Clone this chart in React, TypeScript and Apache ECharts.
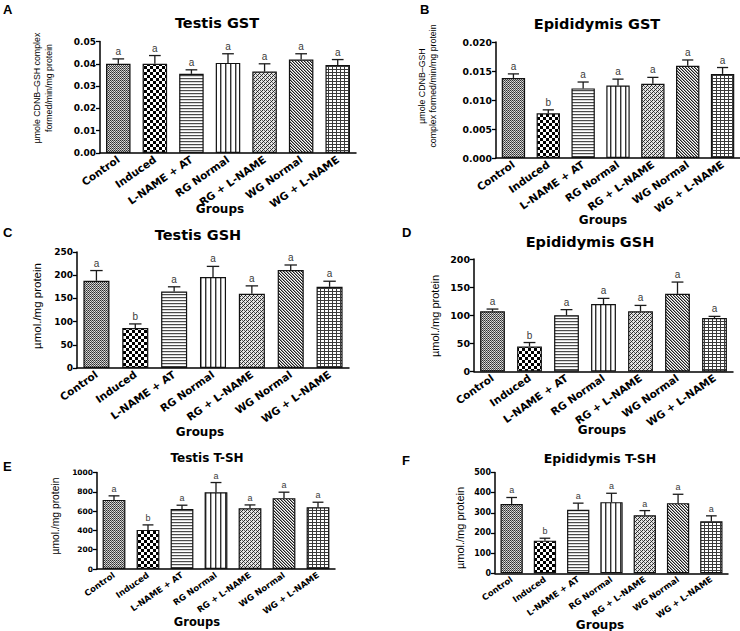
import React, { useEffect, useRef } from 'react';
import * as echarts from 'echarts';

// ---------------- DATA ----------------
const categories = ['Control', 'Induced', 'L-NAME + AT', 'RG Normal', 'RG + L-NAME', 'WG Normal', 'WG + L-NAME'];

const testisGstMean = [0.0400, 0.0400, 0.0355, 0.0404, 0.0365, 0.0419, 0.0395];
const testisGstSem = [0.0022, 0.0037, 0.0018, 0.0041, 0.0035, 0.0026, 0.0024];
const testisGstLetters = ['a', 'a', 'a', 'a', 'a', 'a', 'a'];

const epiGstMean = [0.0138, 0.0077, 0.0120, 0.0125, 0.0128, 0.0159, 0.0145];
const epiGstSem = [0.0007, 0.0006, 0.0011, 0.0011, 0.0011, 0.0010, 0.0011];
const epiGstLetters = ['a', 'b', 'a', 'a', 'a', 'a', 'a'];

const testisGshMean = [188, 86, 165, 196, 160, 211, 175];
const testisGshSem = [22, 9, 10, 23, 17, 11, 12];
const testisGshLetters = ['a', 'b', 'a', 'a', 'a', 'a', 'a'];

const epiGshMean = [107, 44.5, 100, 120, 107, 138, 95];
const epiGshSem = [4, 7, 10, 10, 10.5, 21, 3];
const epiGshLetters = ['a', 'b', 'a', 'a', 'a', 'a', 'a'];

const testisTshMean = [716, 405, 623, 796, 630, 734, 640];
const testisTshSem = [42, 52, 38, 100, 34, 62, 52];
const testisTshLetters = ['a', 'b', 'a', 'a', 'a', 'a', 'a'];

const epiTshMean = [344, 162, 315, 353, 288, 348, 258];
const epiTshSem = [32, 12, 33, 44, 23, 44, 27];
const epiTshLetters = ['a', 'b', 'a', 'a', 'a', 'a', 'a'];

// ---------------- LAYOUT ----------------
const BOLD = '"DejaVu Sans", sans-serif';
const REG = '"Liberation Sans", Arial, sans-serif';

const panels = [
  {
    tag: 'A', title: 'Testis GST', mean: testisGstMean, sem: testisGstSem, letters: testisGstLetters,
    max: 0.05, interval: 0.01, decimals: 2,
    grid: { left: 100, top: 41.5, width: 256, height: 111.5 },
    titleX: 217, titleY: 23, titleSize: 14.5, tickSize: 9, catSize: 10.5, rotate: 35,
    yName: 'µmole CDNB–GSH complex\nformed/min/mg protein', yNameX: 43, yNameY: 88, yNameSize: 8.8, yNameLH: 12,
    groupsX: 220, groupsY: 209, groupsSize: 12, tagX: 3, tagY: 3,
  },
  {
    tag: 'B', title: 'Epididymis GST', mean: epiGstMean, sem: epiGstSem, letters: epiGstLetters,
    max: 0.02, interval: 0.005, decimals: 3,
    grid: { left: 496, top: 42, width: 244, height: 116 },
    titleX: 597, titleY: 24, titleSize: 14.5, tickSize: 9.3, catSize: 10.5, rotate: 35,
    yName: 'µmole CDNB–GSH\ncomplex formed/min/mg protein', yNameX: 427.5, yNameY: 86, yNameSize: 8.8, yNameLH: 11.5,
    groupsX: 603, groupsY: 220, groupsSize: 12, tagX: 420, tagY: 3,
  },
  {
    tag: 'C', title: 'Testis GSH', mean: testisGshMean, sem: testisGshSem, letters: testisGshLetters,
    max: 250, interval: 50, decimals: 0,
    grid: { left: 77, top: 252, width: 272, height: 116 },
    titleX: 198, titleY: 235, titleSize: 14.5, tickSize: 9, catSize: 10.5, rotate: 35,
    yName: 'µmol./mg protein', yNameX: 37, yNameY: 306, yNameSize: 11.5, yNameLH: 12,
    groupsX: 200, groupsY: 432, groupsSize: 12, tagX: 3, tagY: 226,
  },
  {
    tag: 'D', title: 'Epididymis GSH', mean: epiGshMean, sem: epiGshSem, letters: epiGshLetters,
    max: 200, interval: 50, decimals: 0,
    grid: { left: 474, top: 259, width: 259, height: 112.5 },
    titleX: 590, titleY: 242, titleSize: 14.5, tickSize: 9.5, catSize: 10.5, rotate: 35,
    yName: 'µmol./mg protein', yNameX: 435, yNameY: 316, yNameSize: 11, yNameLH: 12,
    groupsX: 602, groupsY: 430, groupsSize: 12, tagX: 402, tagY: 226,
  },
  {
    tag: 'E', title: 'Testis T-SH', mean: testisTshMean, sem: testisTshSem, letters: testisTshLetters,
    max: 1000, interval: 200, decimals: 0,
    grid: { left: 97, top: 472.5, width: 238, height: 96.5 },
    titleX: 207, titleY: 458, titleSize: 12, tickSize: 7.5, catSize: 8.5, rotate: 35,
    yName: 'µmol./mg protein', yNameX: 55, yNameY: 516, yNameSize: 10.3, yNameLH: 12,
    groupsX: 197, groupsY: 622, groupsSize: 11.5, tagX: 3, tagY: 460,
  },
  {
    tag: 'F', title: 'Epididymis T-SH', mean: epiTshMean, sem: epiTshSem, letters: epiTshLetters,
    max: 500, interval: 100, decimals: 0,
    grid: { left: 495, top: 472.5, width: 233, height: 100.8 },
    titleX: 600, titleY: 458, titleSize: 12.5, tickSize: 8, catSize: 8.5, rotate: 35,
    yName: 'µmol./mg protein', yNameX: 460, yNameY: 528, yNameSize: 11, yNameLH: 12,
    groupsX: 600, groupsY: 625, groupsSize: 12, tagX: 402, tagY: 454,
  },
];

// ---------------- PATTERNS ----------------
function makePattern(w: number, h: number, bg: string, draw: (ctx: CanvasRenderingContext2D) => void) {
  const c = document.createElement('canvas');
  c.width = w;
  c.height = h;
  const ctx = c.getContext('2d') as CanvasRenderingContext2D;
  ctx.fillStyle = bg;
  ctx.fillRect(0, 0, w, h);
  draw(ctx);
  return { image: c, repeat: 'repeat', imageWidth: w, imageHeight: h } as any;
}

function buildPatterns() {
  const px = (ctx: CanvasRenderingContext2D, x: number, y: number, col: string) => {
    ctx.fillStyle = col;
    ctx.fillRect(x, y, 1, 1);
  };
  const control = makePattern(4, 4, '#ffffff', (ctx) => {
    for (let y = 0; y < 4; y++)
      for (let x = 0; x < 4; x++) {
        if ((x + y) % 2 === 0) px(ctx, x, y, y % 2 === 0 ? '#2e2e2e' : '#555555');
        else px(ctx, x, y, y % 2 === 0 ? '#bdbdbd' : '#e0e0e0');
      }
  });
  const induced = makePattern(6, 6, '#ffffff', (ctx) => {
    ctx.fillStyle = '#000000';
    ctx.fillRect(0, 0, 3, 3);
    ctx.fillRect(3, 3, 3, 3);
  });
  const hLines = makePattern(1, 3, '#ffffff', (ctx) => {
    px(ctx, 0, 0, '#4a4a4a');
    px(ctx, 0, 1, '#d8d8d8');
  });
  const vLines = makePattern(5, 1, '#ffffff', (ctx) => {
    px(ctx, 0, 0, '#333333');
    px(ctx, 1, 0, '#aaaaaa');
  });
  const fineDiag = makePattern(4, 4, '#e4e4e4', (ctx) => {
    for (let y = 0; y < 4; y++)
      for (let x = 0; x < 4; x++) {
        if ((x + y) % 4 === 0) px(ctx, x, y, '#262626');
        else if ((x - y + 8) % 4 === 2) px(ctx, x, y, '#666666');
      }
  });
  const darkDiag = makePattern(3, 3, '#ffffff', (ctx) => {
    for (let y = 0; y < 3; y++)
      for (let x = 0; x < 3; x++) {
        if ((x - y + 6) % 3 === 0) px(ctx, x, y, '#1e1e1e');
        else if ((x - y + 6) % 3 === 1) px(ctx, x, y, '#9a9a9a');
      }
  });
  const grid = makePattern(4, 3, '#ffffff', (ctx) => {
    ctx.fillStyle = '#3a3a3a';
    ctx.fillRect(0, 0, 4, 1);
    ctx.fillRect(0, 0, 1, 3);
  });
  return [control, induced, hLines, vLines, fineDiag, darkDiag, grid];
}

// ---------------- CHART ----------------
export default function App() {
  const ref = useRef<HTMLDivElement>(null);

  useEffect(() => {
    if (!ref.current) return;
    const chart = echarts.init(ref.current, undefined, { renderer: 'svg' });
    const patterns = buildPatterns();

    const grids: any[] = [];
    const xAxes: any[] = [];
    const yAxes: any[] = [];
    const series: any[] = [];
    const graphics: any[] = [];

    panels.forEach((p, i) => {
      grids.push({ ...p.grid, containLabel: false });
      xAxes.push({
        type: 'category',
        gridIndex: i,
        data: categories,
        axisLine: { lineStyle: { color: '#000', width: 1.5 } },
        axisTick: { alignWithLabel: true, length: 4, lineStyle: { color: '#000', width: 1.3 } },
        axisLabel: {
          interval: 0,
          rotate: p.rotate,
          margin: 5,
          color: '#000',
          fontFamily: BOLD,
          fontWeight: 'bold',
          fontSize: p.catSize,
        },
        splitLine: { show: false },
      });
      yAxes.push({
        type: 'value',
        gridIndex: i,
        min: 0,
        max: p.max,
        interval: p.interval,
        axisLine: { show: true, lineStyle: { color: '#000', width: 1.5 } },
        axisTick: { show: true, length: 4, lineStyle: { color: '#000', width: 1.3 } },
        axisLabel: {
          color: '#000',
          fontFamily: BOLD,
          fontWeight: 'bold',
          fontSize: p.tickSize,
          margin: 4,
          formatter: (v: number) => v.toFixed(p.decimals),
        },
        splitLine: { show: false },
      });
      series.push({
        type: 'bar',
        xAxisIndex: i,
        yAxisIndex: i,
        barWidth: '67%',
        data: p.mean.map((v, k) => ({
          value: v,
          itemStyle: { color: patterns[k], borderColor: '#111', borderWidth: 1.2 },
        })),
      });
      const letters = p.letters;
      series.push({
        type: 'custom',
        xAxisIndex: i,
        yAxisIndex: i,
        z: 5,
        clip: false,
        encode: { x: 0, y: 1 },
        data: p.mean.map((v, k) => [k, v, v + p.sem[k]]),
        renderItem: (params: any, api: any) => {
          const idx = api.value(0);
          const base = api.coord([idx, api.value(1)]);
          const top = api.coord([idx, api.value(2)]);
          const band = api.size([1, 0])[0];
          const half = band * 0.16;
          const ls = { stroke: '#1a1a1a', lineWidth: 1.3 };
          return {
            type: 'group',
            children: [
              { type: 'line', shape: { x1: base[0], y1: base[1], x2: top[0], y2: top[1] }, style: ls },
              { type: 'line', shape: { x1: top[0] - half, y1: top[1], x2: top[0] + half, y2: top[1] }, style: ls },
              {
                type: 'text',
                x: top[0],
                y: top[1] - 2.5,
                style: {
                  text: letters[params.dataIndex],
                  textAlign: 'center',
                  textVerticalAlign: 'bottom',
                  fill: '#3a3a3a',
                  font: `${p.tag === 'E' || p.tag === 'F' ? 9 : 10}px ${REG}`,
                },
              },
            ],
          };
        },
      });

      graphics.push({
        type: 'text',
        x: p.titleX,
        y: p.titleY,
        style: {
          text: p.title,
          textAlign: 'center',
          textVerticalAlign: 'middle',
          fill: '#000',
          font: `bold ${p.titleSize}px ${BOLD}`,
        },
      });
      graphics.push({
        type: 'text',
        x: p.yNameX,
        y: p.yNameY,
        rotation: Math.PI / 2,
        style: {
          text: p.yName,
          textAlign: 'center',
          textVerticalAlign: 'middle',
          fill: '#000',
          lineHeight: p.yNameLH,
          font: `${p.yNameSize}px ${REG}`,
        },
      });
      graphics.push({
        type: 'text',
        x: p.groupsX,
        y: p.groupsY,
        style: {
          text: 'Groups',
          textAlign: 'center',
          textVerticalAlign: 'middle',
          fill: '#000',
          font: `bold ${p.groupsSize}px ${BOLD}`,
        },
      });
      graphics.push({
        type: 'text',
        x: p.tagX,
        y: p.tagY,
        style: {
          text: p.tag,
          textAlign: 'left',
          textVerticalAlign: 'top',
          fill: '#000',
          font: `bold 13px ${REG}`,
        },
      });
    });

    chart.setOption({
      animation: false,
      backgroundColor: '#ffffff',
      grid: grids,
      xAxis: xAxes,
      yAxis: yAxes,
      series,
      graphic: { elements: graphics },
    });

    return () => chart.dispose();
  }, []);

  return (
    <div
      ref={ref}
      style={{ position: 'absolute', left: 0, top: 0, width: 740, height: 631, background: '#fff' }}
    />
  );
}
